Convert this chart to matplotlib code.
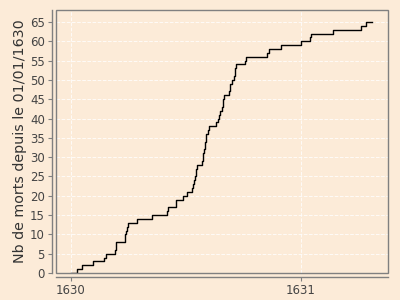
import matplotlib
matplotlib.use('Agg')
import matplotlib.pyplot as plt
from matplotlib.patches import Rectangle
import numpy as np

# jour (depuis le 01/01/1630) de chaque deces
death_days = [10, 18, 35, 53, 55, 70, 71, 72, 85, 86, 87, 89, 90, 104, 129,
              152, 154, 166, 167, 177, 184, 192, 194, 195, 196, 198, 199, 200,
              208, 209, 210, 211, 212, 213, 214, 215, 217, 219, 230, 234, 235,
              236, 239, 241, 242, 243, 251, 252, 253, 256, 258, 260, 261, 262,
              276, 277, 311, 314, 334, 365, 380, 381, 415, 460, 468]
last_day = 478
year_ticks = [1630, 1631]
y_ticks = list(range(0, 70, 5))

BG = '#fcebd8'
FRAME = '#808080'
TXT = '#444444'


def main():
    days = [0] + death_days + [last_day]
    counts = [0] + list(range(1, len(death_days) + 1)) + [len(death_days)]
    x = 1630 + np.array(days) / 365.0

    fig = plt.figure(figsize=(4, 3), dpi=100, facecolor=BG)
    ax = fig.add_axes([0.14, 0.09, 0.83, 0.8767])
    ax.set_facecolor(BG)

    ax.grid(True, color='white', linestyle='--', linewidth=0.7, alpha=0.8)
    ax.set_axisbelow(True)
    ax.plot(x, counts, drawstyle='steps-post', color='black', linewidth=1.0)

    ax.set_xlim(1629.935, 1631.378)
    ax.set_ylim(0, 68.1)
    ax.set_xticks(year_ticks)
    ax.set_xticklabels([str(v) for v in year_ticks])
    ax.set_yticks(y_ticks)

    for s in ['top', 'right']:
        ax.spines[s].set_visible(False)
    for s in ['left', 'bottom']:
        ax.spines[s].set_position(('outward', 3))
        ax.spines[s].set_color(FRAME)
        ax.spines[s].set_linewidth(1.0)
    ax.add_patch(Rectangle((0, 0), 1, 1, transform=ax.transAxes, fill=False,
                           edgecolor=FRAME, linewidth=1.0, clip_on=False, zorder=3))

    ax.tick_params(colors=FRAME, labelcolor=TXT, labelsize=8.5, length=3, width=0.8, pad=2)
    ax.set_ylabel('Nb de morts depuis le 01/01/1630', fontsize=10.3, color='#333333', labelpad=2)

    fig.savefig('out.png', dpi=100, facecolor=BG)


if __name__ == '__main__':
    main()
